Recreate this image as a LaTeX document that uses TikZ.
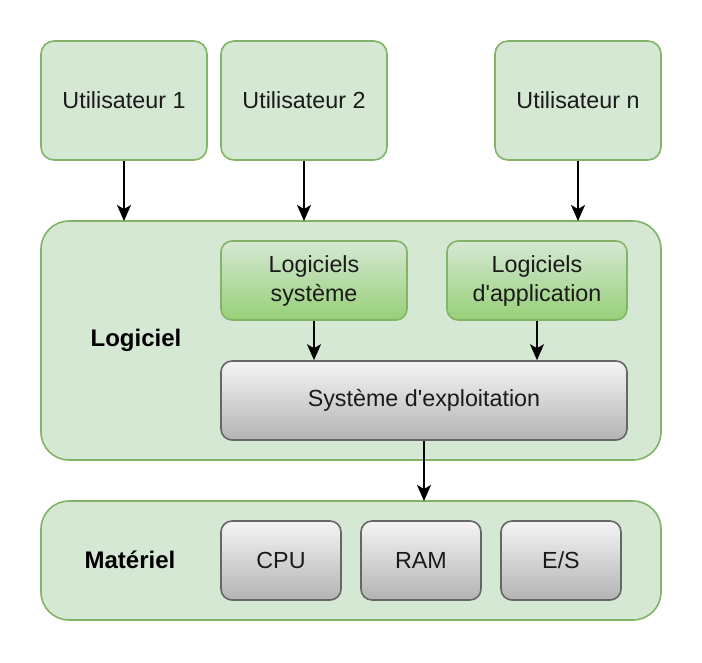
\documentclass[tikz,border=0pt]{standalone}
\usepackage{fontspec}
\newfontfamily\plainsans{Liberation Sans}
\usetikzlibrary{arrows.meta}
\definecolor{gfill}{HTML}{D5E8D4}
\definecolor{gline}{HTML}{82B366}
\definecolor{gbot}{HTML}{97D077}
\definecolor{wtop}{HTML}{F5F5F5}
\definecolor{wbot}{HTML}{B3B3B3}
\definecolor{wline}{HTML}{666666}
\definecolor{txt}{HTML}{1A1A1A}
\tikzset{
  base/.style={draw, line width=1.6pt, inner sep=0pt, align=center, text=txt,
    font=\plainsans\fontsize{23.3}{29}\selectfont},
  userbox/.style={base, draw=gline, fill=gfill, rounded corners=13pt,
    minimum width=166pt, minimum height=119pt},
  container/.style={draw=gline, fill=gfill, line width=1.6pt, rounded corners=28pt},
  softbox/.style={base, draw=gline, top color=gfill, bottom color=gbot, rounded corners=11pt,
    minimum height=79pt},
  graybox/.style={base, draw=wline, top color=wtop, bottom color=wbot, rounded corners=11pt,
    minimum height=79pt},
  lbl/.style={font=\plainsans\fontsize{24}{28}\selectfont\bfseries, text=black},
  arr/.style={draw=black, line width=1.6pt, -{Stealth[length=16pt,width=14pt,inset=4pt]}}
}
\begin{document}
\begin{tikzpicture}[x=1pt,y=-1pt]
\useasboundingbox (0,0) rectangle (702,662);
\node[userbox] (u1) at (124,100.5) {Utilisateur 1};
\node[userbox] (u2) at (304,100.5) {Utilisateur 2};
\node[userbox] (un) at (578,100.5) {Utilisateur n};
\draw[container] (41,221) rectangle (661,460);
\coordinate (c1) at (124,221);
\coordinate (c2) at (304,221);
\coordinate (cn) at (578,221);
\node[lbl] (logiciel) at (136,340) {Logiciel};
\node[softbox, minimum width=186pt] (ls) at (314,280.5) {Logiciels\\système};
\node[softbox, minimum width=180pt] (la) at (537,280.5) {Logiciels\\d'application};
\node[graybox, minimum width=406pt] (os) at (424,400.5) {Système d'exploitation};
\draw[container] (41,501) rectangle (661,620);
\coordinate (m1) at (424,501);
\node[lbl] (materiel) at (130,560) {Matériel};
\node[graybox, minimum width=120pt] (cpu) at (281,560.5) {CPU};
\node[graybox, minimum width=120pt] (ram) at (421,560.5) {RAM};
\node[graybox, minimum width=120pt] (es) at (561,560.5) {E/S};
\draw[arr] (u1) -- (c1);
\draw[arr] (u2) -- (c2);
\draw[arr] (un) -- (cn);
\draw[arr] (ls) -- (ls.south |- os.north);
\draw[arr] (la) -- (la.south |- os.north);
\draw[arr] (os) -- (m1);
\end{tikzpicture}
\end{document}
